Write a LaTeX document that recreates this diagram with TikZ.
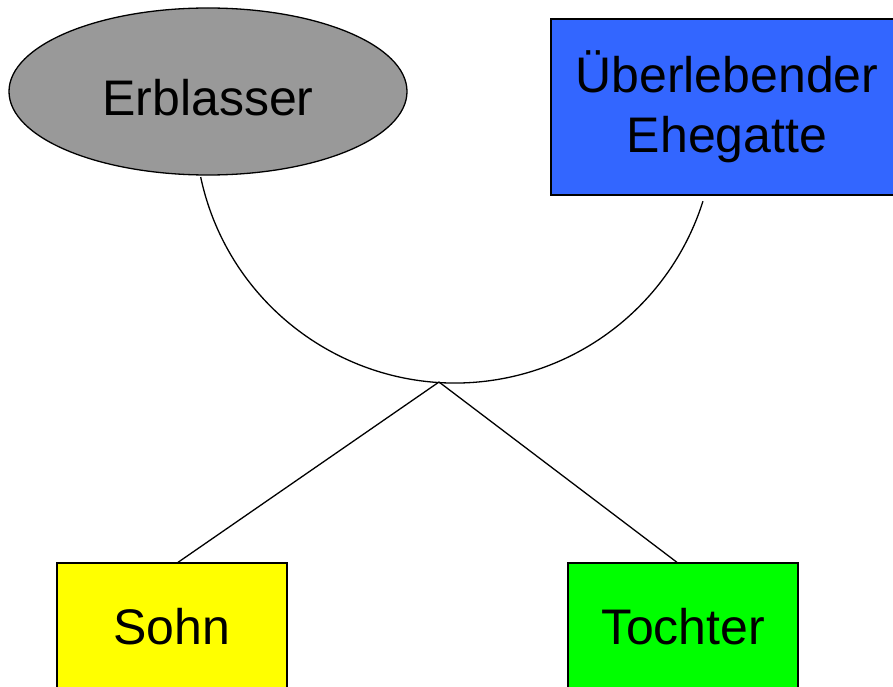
\documentclass[tikz,border=0pt]{standalone}
\usepackage{fontspec}
\setmainfont{Liberation Sans}
\usetikzlibrary{shapes.geometric, positioning}

\definecolor{erblgray}{RGB}{153,153,153}
\definecolor{gattblue}{RGB}{51,102,255}
\definecolor{sohnyellow}{RGB}{255,255,0}
\definecolor{tochtgreen}{RGB}{0,255,0}

\begin{document}
\begin{tikzpicture}[x=1pt, y=1pt, line width=1.3pt, node distance=511pt,
    font=\fontsize{50}{60}\selectfont,
    deceased/.style={draw, ellipse, fill=erblgray, minimum width=398pt, minimum height=167pt, inner sep=0pt},
    spouse/.style={draw, rectangle, fill=gattblue, minimum width=352pt, minimum height=176pt, inner sep=0pt, align=center},
    heir/.style={draw, rectangle, minimum width=230pt, minimum height=128pt, inner sep=0pt}]
    \useasboundingbox (0,0) rectangle (893,-687);

    \node[deceased] (erbl) at (208,-91.5) {\raisebox{0pt}[\dimexpr\height+13pt][\depth]{Erblasser}};
    \node[spouse] (gatte) at (727,-107) {Überlebender\\Ehegatte};
    \node[heir, fill=sohnyellow] (sohn) at (172,-627) {Sohn};
    \node[heir, fill=tochtgreen] (tochter) [right of=sohn] {Tochter};

    % marriage bow
    \coordinate (bowc) at (455,-123);
    \coordinate (join) at (439,-382);
    \draw ([shift={(192:260)}]bowc) arc[start angle=192, end angle=342.5, radius=260];

    \path
    (join) edge ([xshift=6pt]sohn.north)
    (join) edge ([xshift=-6pt]tochter.north);
\end{tikzpicture}
\end{document}
